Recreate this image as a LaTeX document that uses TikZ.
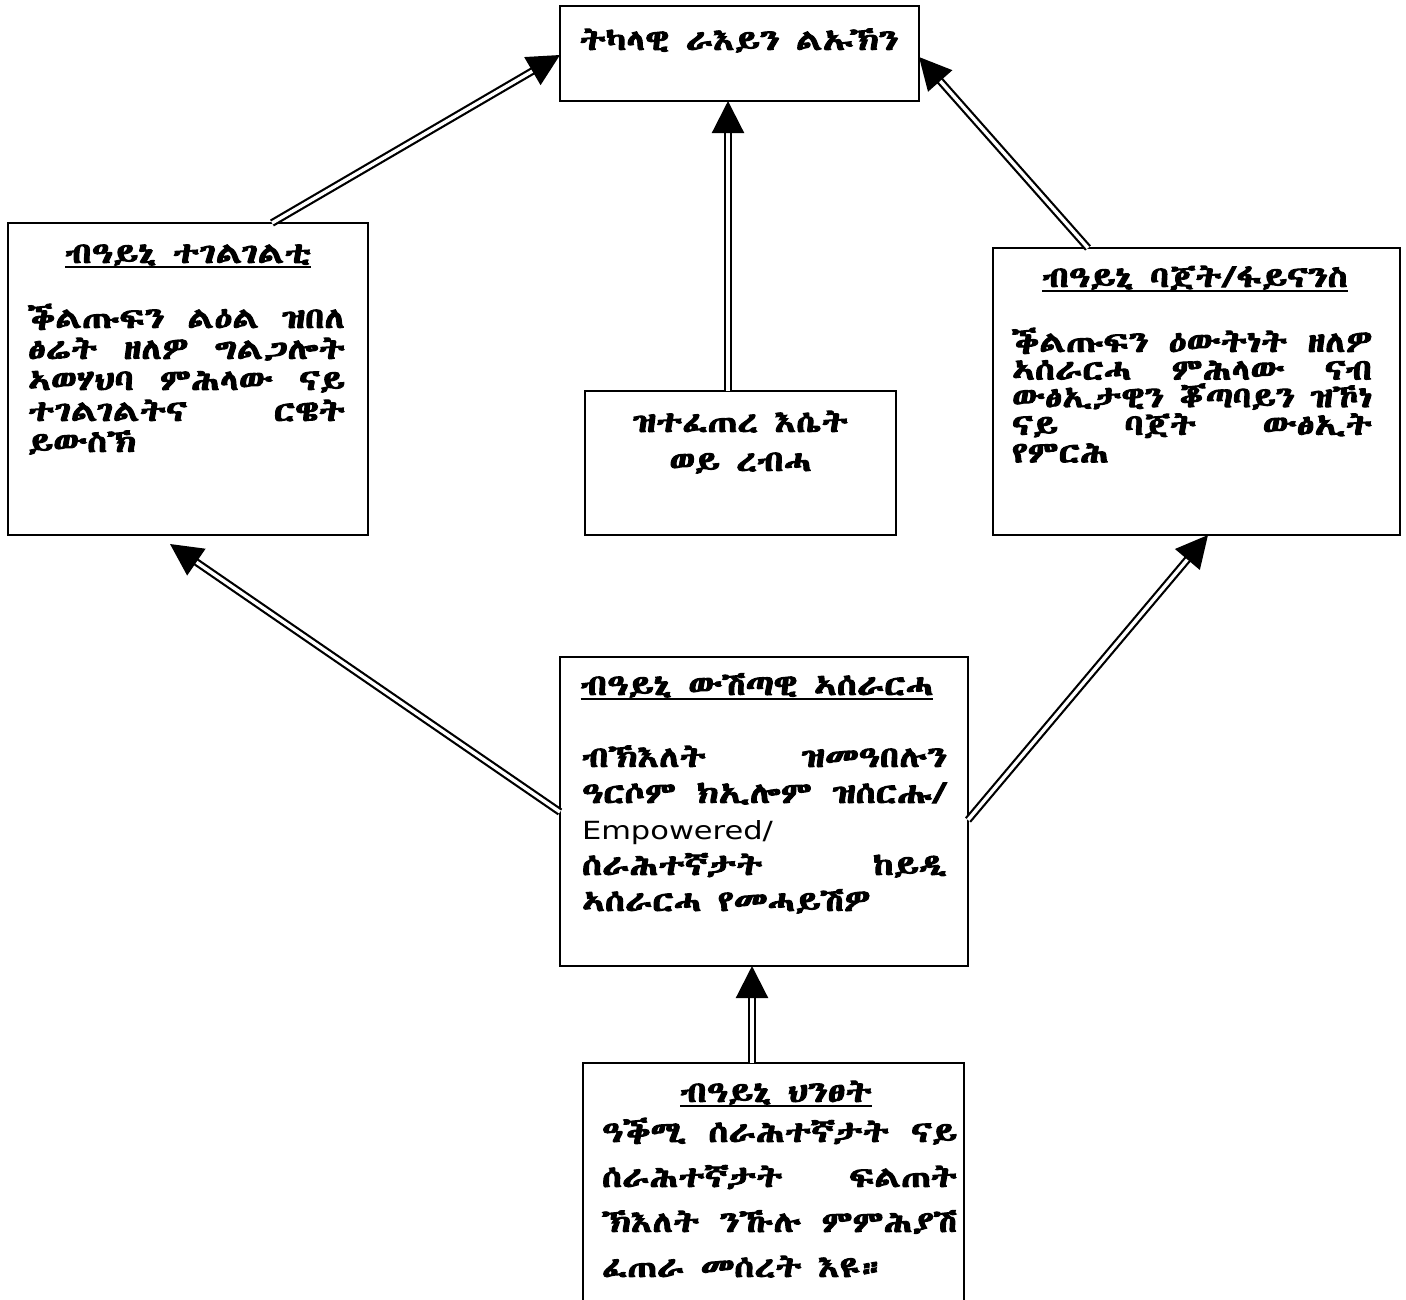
\documentclass[tikz,border=0pt]{standalone}
\usepackage{fontspec}
\usepackage{graphicx}
\usetikzlibrary{arrows.meta,calc}
\IfFontExistsTF{Abyssinica SIL}{\setmainfont{Abyssinica SIL}[FakeStretch=1.25,BoldFont=Abyssinica SIL,BoldFeatures={FakeBold=3.4}]}{%
 \IfFontExistsTF{FreeSerif}{\setmainfont{FreeSerif}[FakeStretch=1.25,BoldFont=FreeSerif,BoldFeatures={FakeBold=3.4}]}{\setmainfont{DejaVu Sans}}}
\newfontfamily\latfont{DejaVu Sans}[FakeStretch=1.22]
\newcommand\ethfont{\bfseries\fontsize{29}{34}\selectfont}
\newlength\linew
\newsavebox\jlbox
\newcommand\jl[1]{\sbox\jlbox{#1}\ifdim\wd\jlbox>\linew\resizebox{\linew}{\ht\jlbox}{\usebox\jlbox}\else\makebox[\linew][s]{#1}\fi\par}
\newcommand\lastl[1]{\makebox[\linew][l]{#1}\par}
\newenvironment{blk}[2]{\begin{minipage}[t]{#1}\setlength\linew{#1}\setlength\parindent{0pt}\lineskiplimit=-100pt\setlength\baselineskip{#2}\noindent\ignorespaces}{\end{minipage}}
\begin{document}
\begin{tikzpicture}[x=1pt,y=-1pt,
 box/.style={draw, line width=2.4pt, inner sep=0pt, outer sep=0pt, anchor=north west},
 txt/.style={inner sep=0pt, outer sep=0pt, font=\ethfont},
 uline/.style={line width=1.8pt},
 arr/.style={double, double distance=3.4pt, line width=2.2pt, -{Triangle[length=32pt,width=32pt]}}]
\useasboundingbox (0,0) rectangle (1406,1299);
% boxes
\node[box, minimum width=359pt, minimum height=95pt] (T) at (560,6) {};
\node[box, minimum width=360pt, minimum height=312pt] (L) at (8,223) {};
\node[box, minimum width=407pt, minimum height=287pt] (R) at (993,248) {};
\node[box, minimum width=311pt, minimum height=144pt] (M) at (585,391) {};
\node[box, minimum width=408pt, minimum height=309pt] (C) at (560,657) {};
\node[box, minimum width=381pt, minimum height=270pt] (B) at (583,1063) {};
% texts
\node[txt, anchor=base] (Tt) at (739,50) {ትካላዊ ራእይን ልኡኽን};
\node[txt, anchor=base] (Lt) at (188,263) {ብዓይኒ ተገልገልቲ};
\draw[uline] ([yshift=-4pt]Lt.base west) -- ([yshift=-4pt]Lt.base east);
\node[txt, anchor=base west] (Lb) at (28,328) {\begin{blk}{317pt}{31pt}
\jl{ቕልጡፍን ልዕል ዝበለ}
\jl{ፅሬት ዘለዎ ግልጋሎት}
\jl{ኣወሃህባ ምሕላው ናይ}
\jl{ተገልገልትና ርዌት}
\lastl{ይውስኽ}
\end{blk}};
\node[txt, anchor=base] (Rt) at (1195,287) {ብዓይኒ ባጀት/ፋይናንስ};
\draw[uline] ([yshift=-4pt]Rt.base west) -- ([yshift=-4pt]Rt.base east);
\node[txt, anchor=base west] (Rb) at (1012,352) {\begin{blk}{360pt}{27.6pt}
\jl{ቕልጡፍን ዕውትነት ዘለዎ}
\jl{ኣሰራርሓ ምሕላው ናብ}
\jl{ውፅኢታዊን ቖጣባይን ዝኾነ}
\jl{ናይ ባጀት ውፅኢት}
\lastl{የምርሕ}
\end{blk}};
\node[txt, anchor=base west] (Mb) at (585,432) {\begin{blk}{311pt}{39pt}\centering
ዝተፈጠረ እሴት\par
ወይ ረብሓ\par
\end{blk}};
\node[txt, anchor=base] (Ct) at (757,695) {ብዓይኒ ውሽጣዊ ኣሰራርሓ};
\draw[uline] ([yshift=-4pt]Ct.base west) -- ([yshift=-4pt]Ct.base east);
\node[txt, anchor=base west] (Cb) at (582,767) {\begin{blk}{365pt}{36pt}
\jl{ብኽእለት ዝመዓበሉን}
\jl{ዓርሶም ክኢሎም ዝሰርሑ/}
\lastl{\mdseries\latfont\fontsize{25}{36}\selectfont Empowered/}
\jl{ሰራሕተኛታት ከይዲ}
\lastl{ኣሰራርሓ የመሓይሽዎ}
\end{blk}};
\node[txt, anchor=base] (Bt) at (776,1102) {ብዓይኒ ህንፀት};
\draw[uline] ([yshift=-4pt]Bt.base west) -- ([yshift=-4pt]Bt.base east);
\node[txt, anchor=base west] (Bb) at (602,1142) {\begin{blk}{355pt}{45pt}
\jl{ዓቕሚ ሰራሕተኛታት ናይ}
\jl{ሰራሕተኛታት ፍልጠት}
\jl{ኽእለት ንኹሉ ምምሕያሽ}
\lastl{ፈጠራ መሰረት እዩ።}
\end{blk}};
% arrows
\draw[arr] ([xshift=264pt]L.north west) -- ([yshift=-49pt]T.north west);
\draw[arr] ([xshift=143pt]M.north west) -- ([xshift=168pt]T.south west);
\draw[arr] ([xshift=95pt]R.north west) -- ([yshift=-51pt]T.north east);
\draw[arr] ([yshift=-155pt]C.north west) -- ([xshift=162pt,yshift=-9pt]L.south west);
\draw[arr] ([yshift=-163pt]C.north east) -- ([xshift=215pt]R.south west);
\draw[arr] ([xshift=169pt]B.north west) -- ([xshift=192pt]C.south west);
\end{tikzpicture}
\end{document}
